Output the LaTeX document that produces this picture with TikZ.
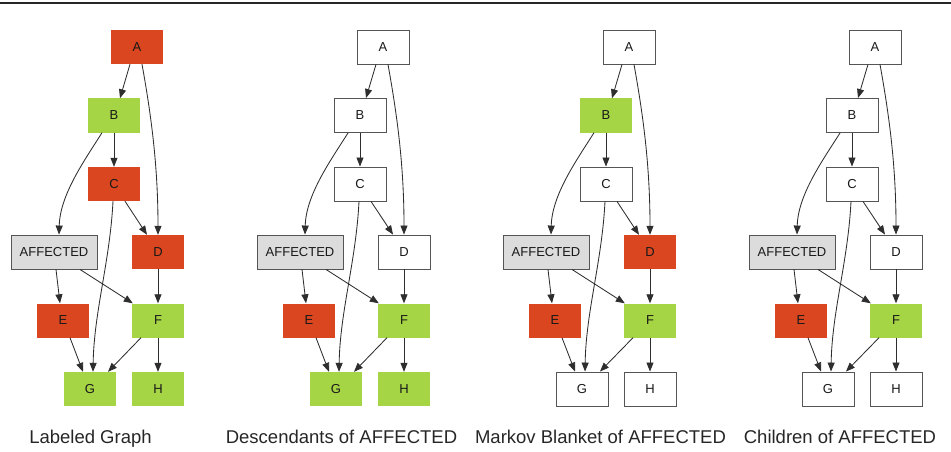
\documentclass[tikz,border=0pt]{standalone}
\usepackage{fontspec}
\setmainfont{Liberation Sans}
\usetikzlibrary{arrows.meta}
\definecolor{redc}{HTML}{D9461F}
\definecolor{greenc}{HTML}{A5D445}
\definecolor{grayc}{HTML}{DCDCDC}
\definecolor{bordc}{HTML}{555555}
\definecolor{edgec}{HTML}{2E2E2E}
\begin{document}
\begin{tikzpicture}[x=1pt,y=1pt,
 box/.style={rectangle, minimum width=52pt, minimum height=34pt, inner sep=0pt, font=\fontsize{13}{13}\selectfont, text=black!90},
 rbox/.style={box, fill=redc},
 gbox/.style={box, fill=greenc},
 wbox/.style={box, fill=white, draw=bordc, line width=0.9pt},
 abox/.style={box, minimum width=86pt, fill=grayc, draw=bordc, line width=0.9pt},
 edge/.style={draw=edgec, line width=0.85pt, -{Triangle[length=9pt,width=7pt]}},
 captext/.style={font=\fontsize{18.5}{20}\selectfont, text=black!85, anchor=base}]
\useasboundingbox (0,0) rectangle (951,-452);
\draw[line width=1.5pt, draw=black!85] (0,-3) -- (951,-3);
\foreach \i/\ox/\ca/\cb/\cc/\cd/\ce/\cf/\cg/\ch/\lab/\lx in {
 1/0/rbox/gbox/rbox/rbox/rbox/gbox/gbox/gbox/Labeled Graph/90.5,
 2/246/wbox/wbox/wbox/wbox/rbox/gbox/gbox/gbox/Descendants of AFFECTED/341.5,
 3/492/wbox/gbox/wbox/rbox/rbox/gbox/wbox/wbox/Markov Blanket of AFFECTED/600.5,
 4/738/wbox/wbox/wbox/wbox/rbox/gbox/wbox/wbox/Children of AFFECTED/840}{
 \begin{scope}[xshift=\ox pt]
  \node[\ca] (A\i) at (137,-47) {A};
  \node[\cb] (B\i) at (114,-115.5) {B};
  \node[\cc] (C\i) at (114,-184) {C};
  \node[abox] (X\i) at (54,-252) {AFFECTED};
  \node[\cd] (D\i) at (158,-252) {D};
  \node[\ce] (E\i) at (63,-320.5) {E};
  \node[\cf] (F\i) at (158,-320.5) {F};
  \node[\cg] (G\i) at (90,-389) {G};
  \node[\ch] (H\i) at (158,-389) {H};
  \draw[edge] ([xshift=-7pt]A\i.south) -- ([xshift=6pt]B\i.north);
  \draw[edge] ([xshift=5pt]A\i.south) .. controls +(9pt,-50pt) and +(0pt,70pt) .. (D\i.north);
  \draw[edge] (B\i.south) -- (C\i.north);
  \draw[edge] ([xshift=-12pt]B\i.south) .. controls +(-17pt,-27pt) and +(1pt,40pt) .. ([xshift=5pt]X\i.north);
  \draw[edge] ([xshift=11pt]C\i.south) -- ([xshift=-11pt]D\i.north);
  \draw[edge] ([xshift=-1pt]C\i.south) .. controls +(-3pt,-60pt) and +(1pt,60pt) .. ([xshift=3pt]G\i.north);
  \draw[edge] ([xshift=2pt]X\i.south) -- ([xshift=-3pt]E\i.north);
  \draw[edge] ([xshift=26pt]X\i.south) -- ([xshift=1pt]F\i.north west);
  \draw[edge] (D\i.south) -- (F\i.north);
  \draw[edge] ([xshift=7pt]E\i.south) -- ([xshift=-7pt]G\i.north);
  \draw[edge] ([xshift=-17pt]F\i.south) -- ([xshift=18pt]G\i.north);
  \draw[edge] (F\i.south) -- (H\i.north);
 \end{scope}
 \node[captext] (L\i) at (\lx,-443) {\lab};
}
\end{tikzpicture}
\end{document}
